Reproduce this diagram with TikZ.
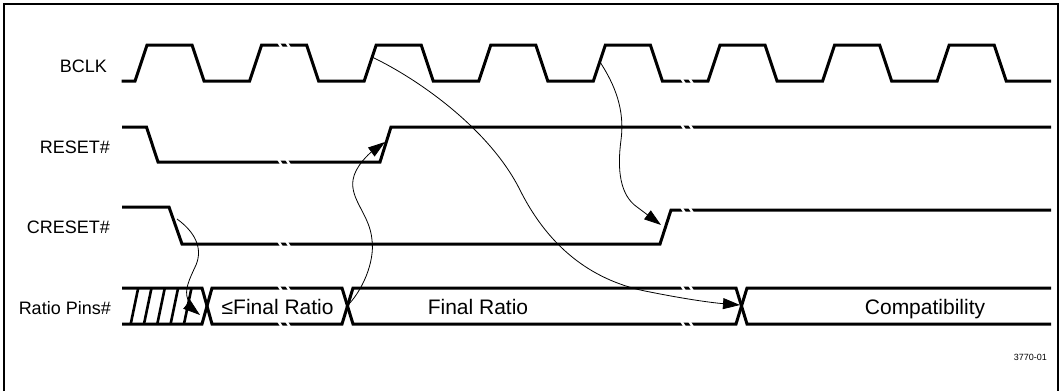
\documentclass[tikz,border=0pt]{standalone}
\usepackage{fontspec}
\setmainfont{Liberation Sans}
\usetikzlibrary{arrows.meta}
\begin{document}
\begin{tikzpicture}[x=1pt,y=-1pt,
  sig/.style={line width=3pt, line join=miter},
  hatchline/.style={line width=2.6pt},
  brk/.style={white, line width=2.4pt},
  cause/.style={line width=0.8pt, -{Triangle[length=17pt,width=11pt]}},
  lbl/.style={font=\fontsize{18}{20}\selectfont, anchor=base east, inner sep=0pt},
  val/.style={font=\fontsize{21}{24}\selectfont, anchor=base, inner sep=0pt}]
\useasboundingbox (0,0) rectangle (1064,391);
\fill[white] (0,0) rectangle (1064,391);
% frame
\draw[line width=2pt] (4,391) -- (4,4) -- (1058,4) -- (1058,391);

% labels
\node[lbl] (lclk) at (107,72) {BCLK};
\node[lbl] (lrst) at (110,153) {RESET\#};
\node[lbl] (lcrst) at (110,233.5) {CRESET\#};
\node[lbl] (lratio) at (111,314.5) {Ratio Pins\#};

% BCLK
\draw[sig] (121.7,81) foreach \k in {0,...,7} { -- ({135+114.6*\k},81) -- ({147+114.6*\k},45) -- ({192+114.6*\k},45) -- ({204+114.6*\k},81) } -- (1051,81);

% RESET#
\draw[sig] (122,127) -- (146.5,127) -- (158,162) -- (380,162) -- (391,127) -- (1051,127);

% CRESET#
\draw[sig] (122,207) -- (169,207) -- (182,244) -- (660,244) -- (671,210) -- (1051,210);

% Ratio pins
\draw[sig] (122,288) -- (202,288) -- (212,324) -- (342,324) -- (353,288) -- (736,288) -- (747,324) -- (1051,324);
\draw[sig] (122,324) -- (202,324) -- (212,288) -- (342,288) -- (353,324) -- (736,324) -- (747,288) -- (1051,288);
\foreach \b in {130.7,144,157.3,170.6,184}
  \draw[hatchline] (\b,324) -- ({\b+7.5},288);

% break marks
\foreach \yy in {45,162,244,288,324}
  \foreach \c in {280,288}
    \draw[brk] ({\c-2.5},{\yy-4}) -- ({\c+2.5},{\yy+4});
\foreach \yy in {81,127,210,288,324}
  \foreach \c in {683,691}
    \draw[brk] ({\c-2.5},{\yy-4}) -- ({\c+2.5},{\yy+4});

% values
\node[val] (vle) at (277.6,314) {≤Final Ratio};
\node[val] (vfr) at (478,314) {Final Ratio};
\node[val] (vcomp) at (925,314) {Compatibility};
\node[font=\fontsize{9}{10}\selectfont, anchor=base east, inner sep=0pt] (fig) at (1047,360) {3770-01};

% connector end points
\coordinate (crstFall) at (177,219);
\coordinate (hatchEnd) at (200,315);
\coordinate (xOne) at (346,307);
\coordinate (rstRise) at (385,142);
\coordinate (clkThree) at (372,57);
\coordinate (xTwo) at (740,305);
\coordinate (clkFive) at (600,62);
\coordinate (crstRise) at (661,225);

% causal arrows
\draw[cause] (crstFall) .. controls (195,232) and (203,248) .. (196,265)
  .. controls (189,280) and (184,290) .. (188,300)
  .. controls (190,305) and (195,311) .. (hatchEnd);
\draw[cause] (xOne) .. controls (362,292) and (375,262) .. (372,240)
  .. controls (370,215) and (350,200) .. (353,180)
  .. controls (355,166) and (370,153) .. (rstRise);
\draw[cause] (clkThree) .. controls (420,80) and (490,130) .. (520,190)
  .. controls (550,250) and (595,282) .. (650,292)
  .. controls (690,300) and (715,303) .. (xTwo);
\draw[cause] (clkFive) .. controls (615,85) and (625,110) .. (621,140)
  .. controls (617,170) and (620,195) .. (637,207)
  .. controls (645,213) and (653,219) .. (crstRise);
\end{tikzpicture}
\end{document}
